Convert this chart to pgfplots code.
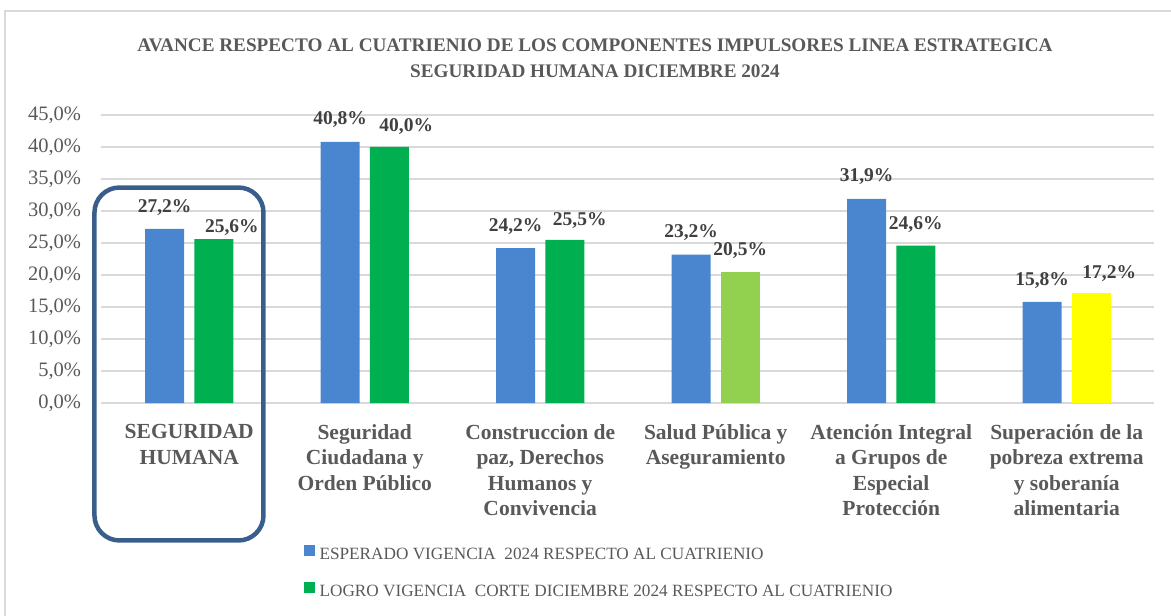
\documentclass[border=0pt]{standalone}
\usepackage{pgfplots}
\pgfplotsset{compat=1.18}
\usepackage{pgfplotstable}
\usepackage{fontspec}
\setmainfont{Liberation Serif}
\definecolor{cblue}{HTML}{4A86D0}
\definecolor{cgreen}{HTML}{00B050}
\definecolor{clgreen}{HTML}{92D050}
\definecolor{cyellow}{HTML}{FFFF00}
\definecolor{labc}{HTML}{595959}
\definecolor{datac}{HTML}{404040}
\definecolor{gridc}{HTML}{D9D9D9}
\definecolor{boxc}{HTML}{3A5E8C}

\pgfplotstableread{
x y dx dy
0 27.2 0 21
1 40.8 0 22
2 24.2 0 22
3 23.2 0 22
4 31.9 0 22
5 15.8 0 21
}\esperado
\pgfplotstableread{
x y dx dy
0 25.6 18 12
1 40.0 17 20
2 25.5 15 19
4 24.6 0 21
}\logro
\pgfplotstableread{
x y dx dy
3 20.5 0 21
}\logrob
\pgfplotstableread{
x y dx dy
5 17.2 18 19
}\logroc

\pgfplotsset{
  labstyle/.style={
    nodes near coords={\pgfmathprintnumber[fixed,fixed zerofill,precision=1,use comma]{\pgfplotspointmeta}\%},
    visualization depends on={\thisrow{dx} \as \dx},
    visualization depends on={\thisrow{dy} \as \dy},
    nodes near coords style={anchor=center, xshift=\dx pt, yshift=\dy pt,
      font=\bfseries\fontsize{19.5}{21}\selectfont, text=datac},
  }
}

\begin{document}
\begin{tikzpicture}
\begin{axis}[
  at={(0pt,0pt)}, anchor=south west,
  scale only axis, width=1053pt, height=288pt,
  xmin=-0.5, xmax=5.5, ymin=0, ymax=45,
  ybar, bar width=0.222,
  clip=false,
  axis line style={draw=none},
  major tick length=0pt,
  ytick={0,5,...,45},
  ymajorgrids, grid style={color=gridc, line width=1.5pt},
  xtick={0,1,2,3,4,5},
  xticklabels={
    {SEGURIDAD\\HUMANA},
    {Seguridad\\Ciudadana y\\Orden Público},
    {Construccion de\\paz, Derechos\\Humanos y\\Convivencia},
    {Salud Pública y\\Aseguramiento},
    {Atención Integral\\a Grupos de\\Especial\\Protección},
    {Superación de la\\pobreza extrema\\y soberanía\\alimentaria}},
  /pgf/number format/assume math mode=true,
  yticklabel={\pgfmathprintnumber[fixed,fixed zerofill,precision=1,use comma]{\tick}\%},
  yticklabel style={font=\fontsize{20.5}{22}\selectfont, text=labc, xshift=-17pt},
  xticklabel style={align=center, font=\bfseries\fontsize{21.5}{25.3}\selectfont, text=labc, yshift=-18pt},
  legend style={at={(rel axis cs:0.1923,-0.4930)}, anchor=north west, draw=none, fill=none,
    font=\fontsize{17.2}{19}\selectfont, text=labc, row sep=18.3pt, inner sep=0pt,
    nodes={inner xsep=5pt}},
  legend cell align=left,
]
\addplot[fill=cblue, draw=none, bar shift=-0.14, labstyle, forget plot] table[x=x,y=y] {\esperado};
\addplot[fill=cgreen, draw=none, bar shift=0.14, labstyle, forget plot] table[x=x,y=y] {\logro};
\addplot[fill=clgreen, draw=none, bar shift=0.14, labstyle, forget plot] table[x=x,y=y] {\logrob};
\addplot[fill=cyellow, draw=none, bar shift=0.14, labstyle, forget plot] table[x=x,y=y] {\logroc};
\addlegendimage{legend image code/.code={\fill[cblue] (0pt,-0.5pt) rectangle (10pt,9.5pt);}}
\addlegendentry{ESPERADO VIGENCIA \ 2024 RESPECTO AL CUATRIENIO}
\addlegendimage{legend image code/.code={\fill[cgreen] (0pt,-0.5pt) rectangle (10pt,9.5pt);}}
\addlegendentry{LOGRO VIGENCIA \ CORTE DICIEMBRE 2024 RESPECTO AL CUATRIENIO}
\draw[boxc, line width=4.5pt, rounded corners=25pt] (axis cs:-0.540,-21.48) rectangle (axis cs:0.423,33.67);
\end{axis}
\node[align=center, font=\bfseries\fontsize{19.2}{26}\selectfont, text=labc] at (493.5pt,345pt)
  {AVANCE RESPECTO AL CUATRIENIO DE LOS COMPONENTES IMPULSORES LINEA ESTRATEGICA\\SEGURIDAD HUMANA DICIEMBRE 2024};
\draw[gridc, line width=1.5pt] (-96.5pt,-213pt) -- (-96.5pt,392pt) -- (1069.5pt,392pt);
\pgfresetboundingbox
\useasboundingbox (-101.5pt,-213pt) rectangle (1069.5pt,403pt);
\end{tikzpicture}
\end{document}
